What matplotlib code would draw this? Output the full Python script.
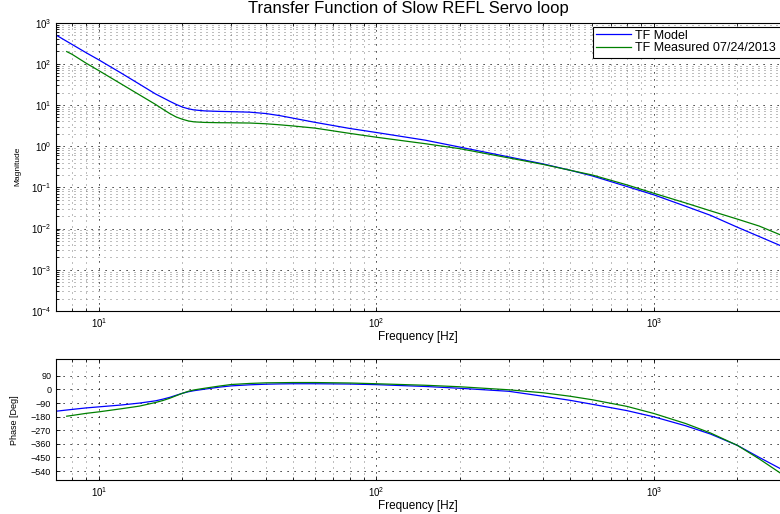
import matplotlib
matplotlib.use("Agg")
import matplotlib.pyplot as plt
from matplotlib.ticker import LogLocator, FixedLocator, NullFormatter

plt.rcParams['font.family'] = ['Liberation Sans', 'DejaVu Sans']
plt.rcParams['mathtext.default'] = 'regular'

# model transfer function (Hz, abs, deg)
freq_model = [7, 8, 9, 10, 12, 14, 16, 17, 18, 19, 20, 21, 22, 24, 27, 30, 35, 40, 45, 50,
              60, 80, 100, 150, 200, 300, 400, 500, 600, 800, 1000, 1300, 1600, 2000, 2400, 2850]
mag_model = [500, 295, 185, 124, 60, 32, 18.5, 15, 12.3, 10.3, 8.9, 8.1, 7.6, 7.2, 7.0, 6.9,
             6.7, 6.2, 5.5, 4.8, 3.8, 2.7, 2.15, 1.4, 0.95, 0.55, 0.37, 0.26, 0.19, 0.105,
             0.066, 0.035, 0.021, 0.0108, 0.0064, 0.0039]
phase_model = [-144, -132, -122, -115, -103, -90, -75, -64, -52, -38, -25, -15, -8, 2, 15, 24,
               31, 35, 37, 38, 38, 36, 32, 20, 8, -12, -45, -72, -98, -140, -181, -240,
               -295, -370, -450, -523]

# measured transfer function 07/24/2013
freq_meas = [7.65, 8, 9, 10, 12, 14, 16, 17, 18, 19, 20, 21, 22, 24, 27, 30, 35, 40, 45, 50,
             60, 80, 100, 150, 200, 300, 400, 500, 600, 800, 1000, 1300, 1600, 2000, 2400, 2850]
mag_meas = [198, 170, 103, 68, 32.7, 17.6, 10.3, 7.9, 6.2, 5.1, 4.5, 4.1, 3.9, 3.78, 3.72,
            3.7, 3.65, 3.5, 3.3, 3.1, 2.75, 2.05, 1.65, 1.15, 0.87, 0.52, 0.36, 0.26, 0.20,
            0.115, 0.072, 0.042, 0.027, 0.017, 0.0115, 0.0071]
phase_meas = [-177, -172, -158, -148, -128, -110, -86, -73, -58, -41, -25, -12, -3, 8, 22, 33,
              40, 44, 45, 46, 46, 43, 38, 28, 18, -2, -22, -45, -68, -112, -159, -225,
              -288, -370, -460, -552]

phase_ticks = [90, 0, -90, -180, -270, -360, -450, -540]

blue = '#0000ff'
green = '#008000'
lw = 0.9
dotted = (0, (1.2, 6))


def style_axis(ax):
	ax.set_xscale('log')
	ax.set_xlim(7, 2850)
	ax.xaxis.set_major_locator(LogLocator(base=10))
	ax.xaxis.set_minor_locator(LogLocator(base=10, subs=range(2, 10)))
	ax.xaxis.set_minor_formatter(NullFormatter())
	ax.tick_params(which='both', direction='in', top=True, right=False, labelsize=7,
		length=3, width=0.6)
	ax.tick_params(which='minor', length=2)
	ax.spines['right'].set_visible(False)
	for s in ['left', 'top', 'bottom']:
		ax.spines[s].set_linewidth(0.8)
	ax.grid(True, which='major', axis='x', linestyle=dotted, color='k', linewidth=0.7)
	ax.grid(True, which='minor', axis='x', linestyle=dotted, color='#666666', linewidth=0.6)
	ax.set_xlabel('Frequency [Hz]', fontsize=8.5, labelpad=1)


fig = plt.figure(figsize=(7.8, 5.14), dpi=100)
ax1 = fig.add_axes([0.0718, 0.395, 0.9282, 0.561])
ax2 = fig.add_axes([0.0718, 0.066, 0.9282, 0.235])

# magnitude
l1, = ax1.plot(freq_model, mag_model, color=blue, lw=lw, label='TF Model')
l2, = ax1.plot(freq_meas, mag_meas, color=green, lw=lw, label='TF Measured 07/24/2013')
style_axis(ax1)
ax1.set_yscale('log')
ax1.set_ylim(1e-4, 1e3)
ax1.yaxis.set_major_locator(LogLocator(base=10, numticks=10))
ax1.yaxis.set_minor_locator(LogLocator(base=10, subs=range(2, 10), numticks=10))
ax1.yaxis.set_minor_formatter(NullFormatter())
ax1.grid(True, which='major', axis='y', linestyle=dotted, color='k', linewidth=0.7)
ax1.grid(True, which='minor', axis='y', linestyle=dotted, color='#666666', linewidth=0.6)
ax1.set_ylabel('Magnitude', fontsize=6)
ax1.yaxis.set_label_coords(-0.048, 0.5)
fig.text(408 / 780, 1 - 13.3 / 514, 'Transfer Function of Slow REFL Servo loop',
	fontsize=12, ha='center', va='baseline')
# legend box runs off the right edge
leg = ax1.legend(handles=[l1, l2], loc='upper left', mode='expand',
	bbox_to_anchor=(0.7417, 0.9, 0.27, 0.086), fontsize=9, fancybox=False,
	framealpha=1, edgecolor='k', borderaxespad=0, handlelength=2.8,
	handletextpad=0.3, labelspacing=0.05, borderpad=0.25)
leg.get_frame().set_linewidth(0.8)

# phase
ax2.plot(freq_model, phase_model, color=blue, lw=lw)
ax2.plot(freq_meas, phase_meas, color=green, lw=lw)
style_axis(ax2)
ax2.set_ylim(-600, 200)
ax2.yaxis.set_major_locator(FixedLocator(phase_ticks))
ax2.tick_params(axis='y', labelsize=6.5)
ax2.grid(True, which='major', axis='y', linestyle=dotted, color='k', linewidth=0.7)
ax2.set_ylabel('Phase [Deg]', fontsize=6.5)
ax2.yaxis.set_label_coords(-0.051, 0.5)

fig.savefig('out.png', dpi=100)
